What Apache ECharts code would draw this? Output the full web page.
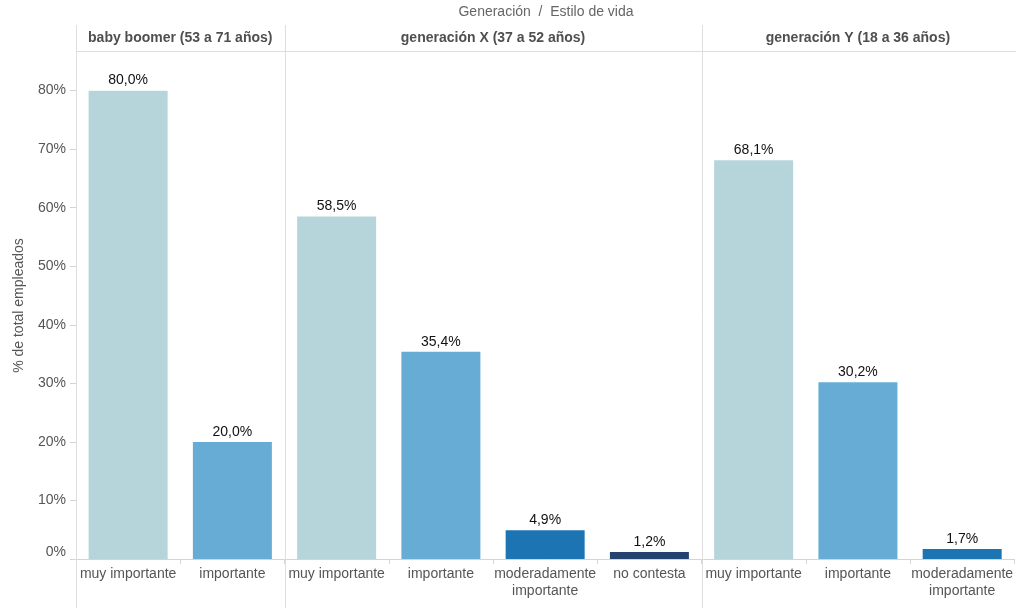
<!DOCTYPE html>
<html>
<head>
<meta charset="utf-8">
<script src="https://cdn.jsdelivr.net/npm/echarts@6/dist/echarts.min.js"></script>
<style>
  html, body { margin: 0; padding: 0; background: #ffffff; }
  #chart { width: 1016px; height: 608px; }
</style>
</head>
<body>
<div id="chart"></div>
<script>
// Share of employees by generation and how important lifestyle is to them (%)
const chartTitle = 'Generación  /  Estilo de vida';
const yAxisTitle = '% de total empleados';

const generations = ['baby boomer (53 a 71 años)', 'generación X (37 a 52 años)', 'generación Y (18 a 36 años)'];

const boomerStyles = ['muy importante', 'importante'];
const boomerValues = [80.0, 20.0];

const genXStyles = ['muy importante', 'importante', 'moderadamente importante', 'no contesta'];
const genXValues = [58.5, 35.4, 4.9, 1.2];

const genYStyles = ['muy importante', 'importante', 'moderadamente importante'];
const genYValues = [68.1, 30.2, 1.7];

const yTicks = [0, 10, 20, 30, 40, 50, 60, 70, 80];

const styleColors = {
  'muy importante': '#b6d5da',
  'importante': '#67acd5',
  'moderadamente importante': '#1d74b2',
  'no contesta': '#23426e'
};

const FONT = '"Liberation Sans", Arial, sans-serif';
const LINE = '#dedede';

const groups = [
  { name: generations[0], styles: boomerStyles, values: boomerValues },
  { name: generations[1], styles: genXStyles, values: genXValues },
  { name: generations[2], styles: genYStyles, values: genYValues }
];

// Flatten the facets into one category axis; keys stay unique per generation
const categories = [];
const barData = [];
const groupRanges = [];
groups.forEach((g, gi) => {
  const start = categories.length;
  g.styles.forEach((s, i) => {
    categories.push(gi + '|' + s);
    barData.push({ value: g.values[i], itemStyle: { color: styleColors[s] } });
  });
  groupRanges.push([start, categories.length - 1]);
});

const fmtPct = v => v.toFixed(1).replace('.', ',') + '%';

const chart = echarts.init(document.getElementById('chart'), null, { renderer: 'canvas' });

chart.setOption({
  animation: false,
  backgroundColor: '#ffffff',
  textStyle: { fontFamily: FONT },
  grid: { left: 76, right: -1, top: 52, bottom: 49, containLabel: false },
  xAxis: {
    type: 'category',
    data: categories,
    axisLine: { show: true, lineStyle: { color: '#d4d4d4', width: 1 } },
    axisTick: { show: true, alignWithLabel: false, length: 5, lineStyle: { color: '#d4d4d4' } },
    axisLabel: {
      interval: 0,
      margin: 7,
      color: '#555555',
      fontSize: 14,
      fontFamily: FONT,
      lineHeight: 17,
      formatter: key => {
        const s = key.split('|')[1];
        return s.length > 16 ? s.replace(' ', '\n') : s;
      }
    },
    splitLine: { show: false }
  },
  yAxis: {
    type: 'value',
    min: 0,
    max: 86.6,
    name: yAxisTitle,
    nameLocation: 'middle',
    nameGap: 50,
    nameTextStyle: { color: '#555555', fontSize: 14, fontFamily: FONT },
    axisLine: { show: false },
    axisTick: { show: true, length: 6, customValues: yTicks, lineStyle: { color: '#d4d4d4' } },
    axisLabel: {
      customValues: yTicks,
      margin: 10,
      color: '#555555',
      fontSize: 14,
      fontFamily: FONT,
      verticalAlignMinLabel: 'bottom',
      formatter: v => v + '%'
    },
    splitLine: { show: false }
  },
  series: [{
    type: 'bar',
    data: barData,
    barWidth: 79,
    label: {
      show: true,
      position: 'top',
      distance: 3,
      color: '#111111',
      fontSize: 14,
      fontFamily: FONT,
      formatter: p => fmtPct(p.value)
    }
  }]
});

// Facet frame: panel borders, header row and header labels
function drawFrame() {
  const px = i => chart.convertToPixel({ xAxisIndex: 0 }, categories[i]);
  const step = px(1) - px(0);
  const right = chart.getWidth();
  const elements = [];

  const boundaries = groupRanges.map(r => Math.round(px(r[0]) - step / 2));

  elements.push({
    type: 'text',
    x: (boundaries[0] + right) / 2,
    y: 12.5,
    style: {
      text: chartTitle, fill: '#666666', fontSize: 14, fontFamily: FONT,
      align: 'center', verticalAlign: 'middle'
    }
  });

  boundaries.forEach(bx => {
    elements.push({
      type: 'line',
      shape: { x1: bx + 0.5, y1: 25, x2: bx + 0.5, y2: 608 },
      style: { stroke: LINE, lineWidth: 1 },
      z: 10
    });
  });

  elements.push({
    type: 'line',
    shape: { x1: boundaries[0], y1: 51.5, x2: right, y2: 51.5 },
    style: { stroke: LINE, lineWidth: 1 },
    z: 10
  });

  groupRanges.forEach((r, gi) => {
    const cx = (px(r[0]) + px(r[1])) / 2;
    elements.push({
      type: 'text',
      x: cx,
      y: 38,
      style: {
        text: groups[gi].name,
        fill: '#4f4f4f',
        fontSize: 14,
        fontWeight: 'bold',
        fontFamily: FONT,
        align: 'center',
        verticalAlign: 'middle'
      },
      z: 10
    });
  });

  chart.setOption({ graphic: elements });
}
drawFrame();
</script>
</body>
</html>
